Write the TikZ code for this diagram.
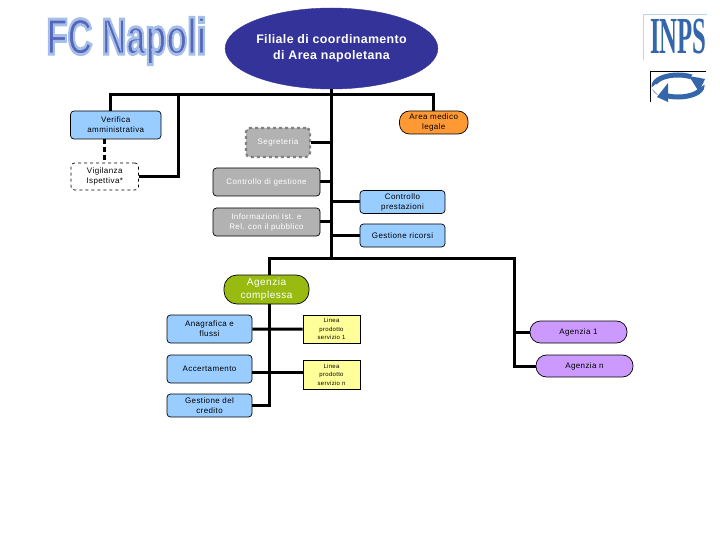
\documentclass[tikz,border=0pt]{standalone}
\usepackage{fontspec}
\usetikzlibrary{shapes.geometric}
\setmainfont{Liberation Sans}
\newfontfamily\spaced{Liberation Sans}[LetterSpace=5]
\newfontfamily\serifb{Liberation Serif}
\definecolor{navy}{HTML}{333399}
\definecolor{lblue}{HTML}{99CCFF}
\definecolor{lgray}{HTML}{B2B2B2}
\definecolor{dgray}{HTML}{7F7F7F}
\definecolor{orng}{HTML}{FF9933}
\definecolor{grn}{HTML}{99BB11}
\definecolor{lyel}{HTML}{FFFF99}
\definecolor{purp}{HTML}{CC99FF}
\definecolor{inps}{HTML}{3366AA}
\definecolor{inpsl}{HTML}{BBD4EA}
\definecolor{fcfill}{HTML}{5566BB}
\tikzset{
  x=1pt,y=-1pt,
  box/.style={draw=black,line width=.7pt,rounded corners=3.5pt,align=center,inner sep=0pt,font=\spaced\fontsize{8}{10}\selectfont,text=black},
  bluebox/.style={box,fill=lblue},
  graybox/.style={box,fill=lgray,text=white},
  pill/.style={box,rounded corners=10.5pt},
  yelbox/.style={box,fill=lyel,rounded corners=0pt,font=\spaced\fontsize{6}{8.6}\selectfont},
  wire/.style={line width=3pt,line cap=butt,line join=miter},
}
\newcommand{\pxbox}[6]{%
  \node[#2,minimum width=#5-#3,minimum height=#6-#4] (#1) at ({(#3+#5)/2},{(#4+#6)/2})}
\begin{document}
\begin{tikzpicture}
\useasboundingbox (0,0) rectangle (720,540);
% logos
\node[inner sep=0pt,text=fcfill,font=\bfseries\fontsize{38}{38}\selectfont,xscale=.9,yscale=1.34] (fclogo) at (126.5,41) {\special{pdf:code q 2 Tr 2.2 w 0.65 0.75 0.91 RG}FC Napoli\special{pdf:code Q}};
\node[inner sep=0pt,text=inps,font=\serifb\bfseries\fontsize{40}{40}\selectfont,xscale=.62,yscale=1.3] (inpslogo) at (678.5,37) {INPS};
\draw[inpsl,line width=.6pt] (643,60) -- (643,14) -- (707,14);
\draw[line width=.7pt,black] (650,102.5) -- (650,71) -- (706,71);
\draw[inps,line width=5pt] (678,86) ellipse [x radius=24,y radius=11];
\fill[white] (694,73) -- (705,84) -- (700,88) -- (690,78) -- cycle;
\fill[white] (662,99) -- (651,88) -- (656,84) -- (667,94) -- cycle;
\fill[inps] (689,76) -- (705,79) -- (699,92) -- cycle;
\fill[inps] (668,83) -- (657,97) -- (668,102) -- cycle;
% nodes
\node[ellipse,fill=navy,draw=navy,minimum width=183,minimum height=81,inner sep=0pt,align=center,text=white,font=\bfseries\fontsize{12.4}{15.8}\selectfont\addfontfeature{LetterSpace=3}] (root) at (331.5,48.5) {Filiale di coordinamento\\ di Area napoletana};
\pxbox{ver}{bluebox}{70.5}{111}{161}{139} {Verifica\\ amministrativa};
\pxbox{vig}{box,fill=white,dashed,text=black}{71}{163}{138.5}{190} {Vigilanza\\ Ispettiva*};
\pxbox{seg}{graybox,draw=dgray,dashed,line width=2.2pt,rounded corners=4pt}{246}{128}{310}{157} {Segreteria};
\pxbox{cdg}{graybox}{213}{168}{320}{196} {Controllo di gestione};
\pxbox{inf}{graybox}{213}{208}{320}{236} {Informazioni Ist. e\\ Rel. con il pubblico};
\pxbox{med}{box,fill=orng,rounded corners=10pt}{399.5}{111}{468}{134} {Area medico\\ legale};
\pxbox{cpr}{bluebox}{360}{190.5}{445}{213.5} {Controllo\\ prestazioni};
\pxbox{ric}{bluebox}{360}{224}{445}{247} {Gestione ricorsi};
\pxbox{cplx}{box,fill=grn,text=white,rounded corners=13pt,font=\spaced\fontsize{10}{12.4}\selectfont}{224}{275}{309}{304} {Agenzia\\ complessa};
\pxbox{ana}{bluebox}{167}{315}{252}{343} {Anagrafica e\\ flussi};
\pxbox{acc}{bluebox}{167}{355}{252}{383} {Accertamento};
\pxbox{cre}{bluebox}{167}{394}{252}{417} {Gestione del\\ credito};
\pxbox{lin1}{yelbox}{303}{315}{360}{343.5} {Linea\\ prodotto\\ servizio 1};
\pxbox{linn}{yelbox}{303}{360}{360}{389} {Linea\\ prodotto\\ servizio n};
\pxbox{ag1}{pill,fill=purp}{530}{321}{627}{343} {Agenzia 1};
\pxbox{agn}{pill,fill=purp}{536}{355}{633}{377} {Agenzia n};
% junctions
\coordinate (top) at (331.5,94.5);
\coordinate (lowj) at (331.5,258.5);
\coordinate (cj) at (269,258.5);
\coordinate (rj) at (514,258.5);
\coordinate (dashx) at (104.5,0);
\coordinate (ylin) at (0,372);
\coordinate (vx) at (110,94.5);
\coordinate (mx) at (433,94.5);
\coordinate (sx) at (178,94.5);
\draw[wire] (root.south) -- (lowj);
\draw[wire] (ver.north -| vx) -- (vx) -- (mx) -- (med.north -| mx);
\draw[wire] (vig.east) -- (vig.east -| sx) -- (sx);
\draw[wire,dash pattern=on 5pt off 3pt] (ver.south -| dashx) -- (vig.north -| dashx);
\draw[wire] (seg.east) -- (seg.east -| top);
\draw[wire] (cdg.east) -- (cdg.east -| top);
\draw[wire] (inf.east) -- (inf.east -| top);
\draw[wire] (cpr.west) -- (cpr.west -| top);
\draw[wire] (ric.west) -- (ric.west -| top);
\draw[wire] (cplx.north -| cj) -- (cj) -- (rj) -- (rj |- agn.west) -- (agn.west);
\draw[wire] (ag1.west) -- (ag1.west -| rj);
\draw[wire] (cplx.south -| cj) -- (cre.east -| cj) -- (cre.east);
\draw[wire] (ana.east) -- (lin1.west);
\draw[wire] (acc.east |- ylin) -- (linn.west |- ylin);
\end{tikzpicture}
\end{document}
